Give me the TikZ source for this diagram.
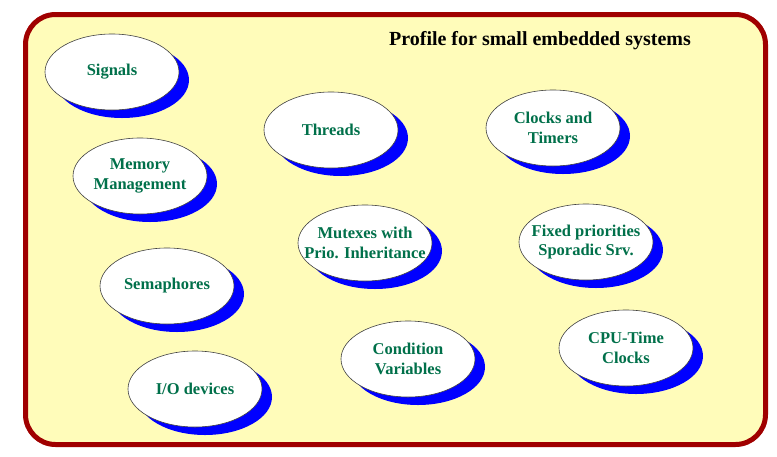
\documentclass[tikz,border=0pt]{standalone}
\usepackage{fontspec}
\setmainfont{Liberation Serif}
\usetikzlibrary{shapes.geometric,shadows}
\definecolor{frame}{HTML}{A00000}
\definecolor{paper}{HTML}{FFFCBA}
\definecolor{txt}{HTML}{00704A}
\tikzset{
  topic/.style={ellipse, draw=black!75, line width=0.6pt, fill=white,
    minimum width=134pt, minimum height=76pt, inner xsep=-16pt, inner ysep=0pt, align=center,
    text=txt, font=\fontsize{16.5}{19.5}\selectfont\bfseries,
    drop shadow={shadow xshift=10pt, shadow yshift=-8pt, fill=blue, opacity=1}},
  title/.style={font=\fontsize{20}{24}\selectfont\bfseries, text=black, inner sep=0pt},
  panel/.style={draw=frame, line width=5pt, fill=paper, rounded corners=30pt}
}
\begin{document}
\begin{tikzpicture}[x=1pt,y=-1pt]
\useasboundingbox (0,0) rectangle (777,456);
\node[panel, minimum width=740pt, minimum height=430pt, anchor=north west] (frame) at (23,12) {};
\node[title] (t) at (540,41) {Profile for small embedded systems};
\node[topic] (sig) at (112,72) {Signals};
\node[topic] (mem) at (140,176) {Memory\\Management};
\node[topic] (sem) at (167,286) {Semaphores};
\node[topic] (io) at (195,389) {I/O devices};
\node[topic] (thr) at (331,130) {Threads};
\node[topic] (mut) at (365,243) {Mutexes with\\Prio. Inheritance};
\node[topic] (cond) at (408,359) {Condition\\Variables};
\node[topic] (clk) at (553,128) {Clocks and\\Timers};
\node[topic] (fix) at (586,242) {Fixed priorities\\Sporadic Srv.};
\node[topic] (cpu) at (626,348) {CPU-Time\\Clocks};
\end{tikzpicture}
\end{document}
